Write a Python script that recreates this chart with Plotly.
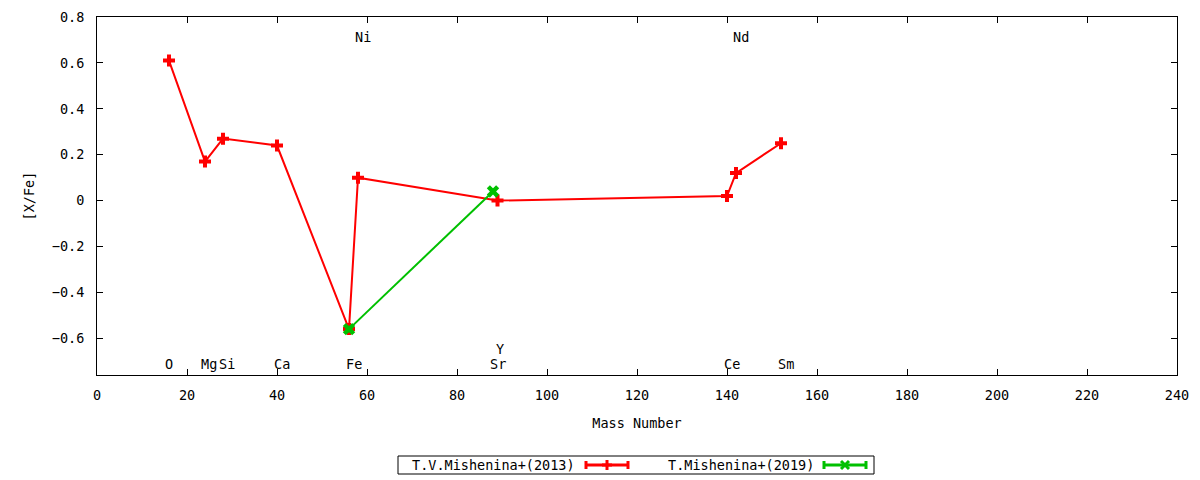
import plotly.graph_objects as go

# Data
mass_2013 = [16, 24, 28, 40, 56, 58, 89, 140, 142, 152]
xfe_2013 = [0.61, 0.17, 0.27, 0.24, -0.56, 0.10, 0.00, 0.02, 0.12, 0.25]
mass_2019 = [56, 88]
xfe_2019 = [-0.56, 0.04]

series_names = ["T.V.Mishenina+(2013)", "T.Mishenina+(2019)"]
series_colors = ["#ff0000", "#00c000"]

label_names = ["O", "Mg", "Si", "Ca", "Fe", "Sr", "Y", "Ce", "Sm", "Ni", "Nd"]
label_x = [16, 24.9, 28.9, 41, 57, 89, 89.5, 141, 153, 59, 143]
label_y = [-0.71, -0.71, -0.71, -0.71, -0.71, -0.71, -0.645, -0.71, -0.71, 0.715, 0.715]

FONT = "DejaVu Sans Mono"
FS = 13.5

# plot-area geometry (pixels) used for the hand-drawn gnuplot-style key
L, R, T, B = 97, 1177, 17, 375


def px(x):
    return (x - L) / (R - L)


def py(y):
    return (B - y) / (B - T)


fig = go.Figure()
fig.add_trace(go.Scatter(
    x=mass_2013, y=xfe_2013, mode="lines+markers", name=series_names[0],
    line=dict(color=series_colors[0], width=2),
    marker=dict(symbol="cross", size=10, color=series_colors[0]),
))
fig.add_trace(go.Scatter(
    x=mass_2019, y=xfe_2019, mode="lines+markers", name=series_names[1],
    line=dict(color=series_colors[1], width=2),
    marker=dict(symbol="x", size=11, color=series_colors[1]),
))

for name, lx, ly in zip(label_names, label_x, label_y):
    fig.add_annotation(x=lx, y=ly, text=name, showarrow=False,
                       font=dict(family=FONT, size=FS, color="black"))

# gnuplot-style key: text on the left, sample on the right
fig.add_shape(type="rect", xref="paper", yref="paper",
              x0=px(398), x1=px(874), y0=py(474), y1=py(456),
              line=dict(color="black", width=1), fillcolor="white", layer="above")
key_text_right = [577, 816]
key_sample = [(586, 628), (824, 866)]
for i in range(2):
    c = series_colors[i]
    fig.add_annotation(xref="paper", yref="paper", x=px(key_text_right[i]), y=py(465),
                       xanchor="right", yanchor="middle", text=series_names[i],
                       showarrow=False, font=dict(family=FONT, size=FS, color="black"))
    a, b = key_sample[i]
    m = (a + b) / 2
    fig.add_shape(type="line", xref="paper", yref="paper",
                  x0=px(a), x1=px(b), y0=py(465), y1=py(465),
                  line=dict(color=c, width=3), layer="above")
    for e in (a, b):
        fig.add_shape(type="line", xref="paper", yref="paper",
                      x0=px(e), x1=px(e), y0=py(461), y1=py(469),
                      line=dict(color=c, width=3), layer="above")
    if i == 0:
        fig.add_shape(type="line", xref="paper", yref="paper",
                      x0=px(m), x1=px(m), y0=py(460), y1=py(470),
                      line=dict(color=c, width=3), layer="above")
        fig.add_shape(type="line", xref="paper", yref="paper",
                      x0=px(m - 5), x1=px(m + 5), y0=py(465), y1=py(465),
                      line=dict(color=c, width=3), layer="above")
    else:
        fig.add_shape(type="line", xref="paper", yref="paper",
                      x0=px(m - 4), x1=px(m + 4), y0=py(461), y1=py(469),
                      line=dict(color=c, width=3), layer="above")
        fig.add_shape(type="line", xref="paper", yref="paper",
                      x0=px(m - 4), x1=px(m + 4), y0=py(469), y1=py(461),
                      line=dict(color=c, width=3), layer="above")

axis_common = dict(
    showline=True, linecolor="black", linewidth=1, mirror="allticks",
    ticks="inside", ticklen=6, tickcolor="black", showgrid=False, zeroline=False,
    tickfont=dict(family=FONT, size=FS, color="black"), automargin=False,
)

fig.update_layout(
    width=1200, height=480, autosize=False,
    margin=dict(l=L, r=1200 - R, t=T, b=480 - B),
    paper_bgcolor="white", plot_bgcolor="white",
    font=dict(family=FONT, size=FS, color="black"),
    xaxis=dict(range=[0, 240], dtick=20, tick0=0, ticklabelstandoff=8,
               title=dict(text="Mass Number", standoff=16,
                          font=dict(family=FONT, size=FS)), **axis_common),
    yaxis=dict(range=[-0.76, 0.8], dtick=0.2, tick0=0, ticklabelstandoff=9,
               title=dict(text="[X/Fe]", standoff=14,
                          font=dict(family=FONT, size=FS)), **axis_common),
    showlegend=False,
)

fig.write_html("out.html", config={"displayModeBar": False},
               post_script="document.body.style.margin='0';document.body.style.padding='0';")
